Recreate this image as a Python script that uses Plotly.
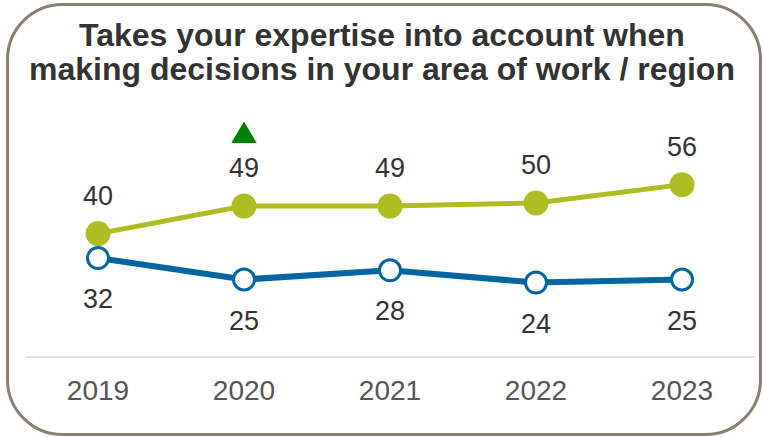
import plotly.graph_objects as go

# Survey results by year
years = ["2019", "2020", "2021", "2022", "2023"]
agree = [40, 49, 49, 50, 56]
disagree = [32, 25, 28, 24, 25]
agree_sig_up = [False, True, False, False, False]

title_lines = [
    "Takes your expertise into account when",
    "making decisions in your area of work / region",
]

# Canvas and plot-area geometry (pixels)
W, H = 763, 437
ML, MR, MT, MB = 25, 8, 100, 81
PX_PER_UNIT = 3.06
plot_w = W - ML - MR
plot_h = H - MT - MB
y_max = plot_h / PX_PER_UNIT

FONT = "Liberation Sans, Arial, sans-serif"
GREEN = "#AEBD22"
BLUE = "#00669F"
SIG_GREEN = "#007F00"
BORDER = "#8C7F70"
LABEL = "#333333"


def px_x(px):
    return (px - ML) / plot_w


def px_y(py):
    return (H - MB - py) / plot_h


def rounded_rect_path(x0, y0, x1, y1, r):
    k = 0.5523 * r
    pts = [
        ("M", [(x0 + r, y0)]),
        ("L", [(x1 - r, y0)]),
        ("C", [(x1 - r + k, y0), (x1, y0 + r - k), (x1, y0 + r)]),
        ("L", [(x1, y1 - r)]),
        ("C", [(x1, y1 - r + k), (x1 - r + k, y1), (x1 - r, y1)]),
        ("L", [(x0 + r, y1)]),
        ("C", [(x0 + r - k, y1), (x0, y1 - r + k), (x0, y1 - r)]),
        ("L", [(x0, y0 + r)]),
        ("C", [(x0, y0 + r - k), (x0 + r - k, y0), (x0 + r, y0)]),
    ]
    out = []
    for cmd, coords in pts:
        out.append(cmd + " " + " ".join(f"{px_x(a):.5f},{px_y(b):.5f}" for a, b in coords))
    return " ".join(out) + " Z"


x = list(range(len(years)))

fig = go.Figure()
fig.add_trace(go.Scatter(
    x=x, y=disagree, mode="lines+markers", name="Disagree",
    line=dict(color=BLUE, width=6),
    marker=dict(size=21, color="white", line=dict(color=BLUE, width=3)),
    cliponaxis=False, hoverinfo="skip",
))
fig.add_trace(go.Scatter(
    x=x, y=agree, mode="lines+markers", name="Agree",
    line=dict(color=GREEN, width=5),
    marker=dict(size=25, color=GREEN),
    cliponaxis=False, hoverinfo="skip",
))

annotations = []
for i, v in enumerate(agree):
    annotations.append(dict(x=i, y=v, xref="x", yref="y", text=str(v), showarrow=False,
                            yshift=38, font=dict(family=FONT, size=27, color=LABEL)))
for i, v in enumerate(disagree):
    annotations.append(dict(x=i, y=v, xref="x", yref="y", text=str(v), showarrow=False,
                            yshift=-41, font=dict(family=FONT, size=27, color=LABEL)))

for line, cy in zip(title_lines, [34.5, 69.0]):
    annotations.append(dict(x=px_x(382), y=px_y(cy), xref="paper", yref="paper",
                            text=f"<b>{line}</b>", showarrow=False,
                            xanchor="center", yanchor="middle",
                            font=dict(family=FONT, size=32, color=LABEL)))

shapes = [dict(type="path", xref="paper", yref="paper",
               path=rounded_rect_path(7.5, 4.5, 760.5, 434.5, 55),
               line=dict(color=BORDER, width=3), fillcolor="rgba(0,0,0,0)", layer="above")]

# Significance arrow above flagged points
for i, (v, up) in enumerate(zip(agree, agree_sig_up)):
    if up:
        shapes.append(dict(type="path", xref="x", yref="y",
                           xsizemode="pixel", ysizemode="pixel",
                           xanchor=i, yanchor=v,
                           path="M -12.8,63 L 12.8,63 L 0,84.5 Z",
                           fillcolor=SIG_GREEN, line=dict(width=0)))

fig.update_layout(
    width=W, height=H,
    margin=dict(l=ML, r=MR, t=MT, b=MB),
    paper_bgcolor="white", plot_bgcolor="white",
    showlegend=False,
    annotations=annotations,
    shapes=shapes,
    xaxis=dict(
        range=[-0.5, len(years) - 0.5],
        tickmode="array", tickvals=x, ticktext=years,
        tickfont=dict(family=FONT, size=28, color="#555555"),
        ticks="outside", ticklen=8, tickcolor="rgba(0,0,0,0)",
        showline=True, linecolor="#E3E3E3", linewidth=2,
        showgrid=False, zeroline=False, fixedrange=True,
    ),
    yaxis=dict(range=[0, y_max], visible=False, fixedrange=True),
)

fig.write_html("out.html", config={"displayModeBar": False})
